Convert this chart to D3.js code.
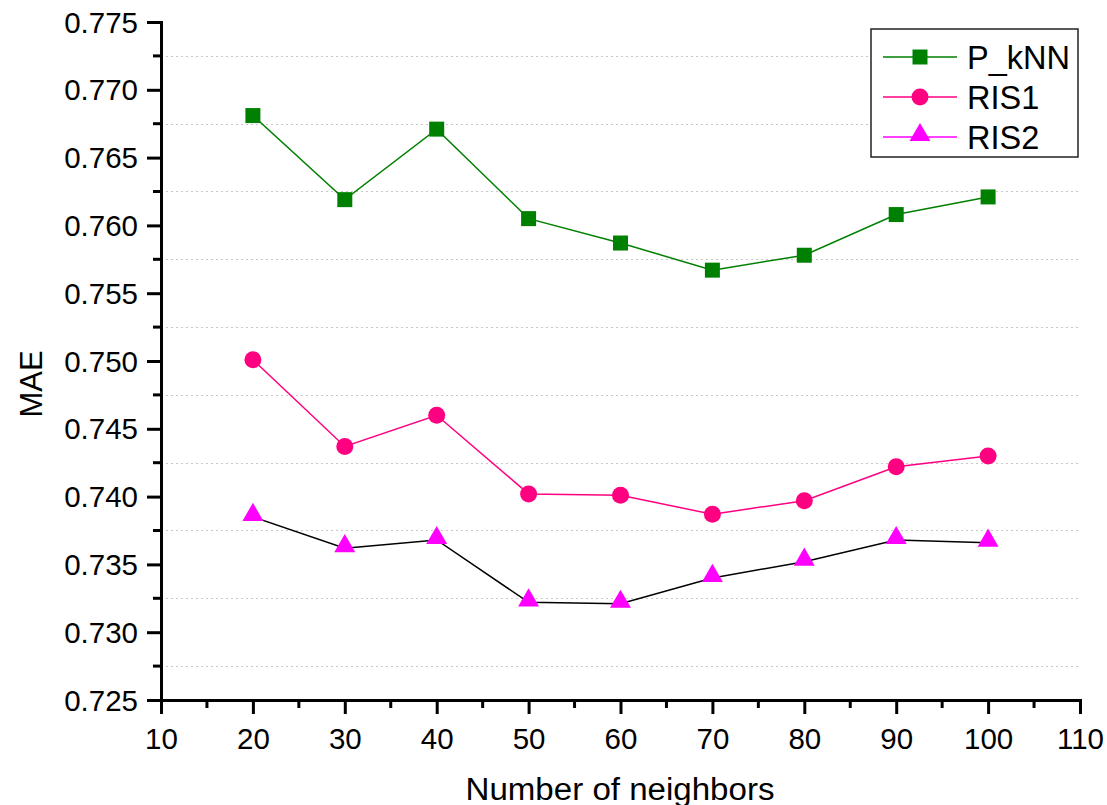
<!DOCTYPE html>
<meta charset="utf-8">
<html>
<script src="https://d3js.org/d3.v7.min.js"></script>
<style>
  body { margin: 0; background: #fff; }
  text { font-family: "Liberation Sans", Arial, sans-serif; }
</style>
<body>
<div id="chart"></div>
<script>
    // data
    const neighbors = [20, 30, 40, 50, 60, 70, 80, 90, 100]
    const pknn = [0.7681, 0.7619, 0.7671, 0.7605, 0.7587, 0.7567, 0.7578, 0.7608, 0.7621]
    const ris1 = [0.7501, 0.7437, 0.7460, 0.7402, 0.7401, 0.7387, 0.7397, 0.7422, 0.7430]
    const ris2 = [0.7385, 0.7362, 0.7368, 0.7322, 0.7321, 0.7340, 0.7352, 0.7368, 0.7366]
    const xTicks = [10, 20, 30, 40, 50, 60, 70, 80, 90, 100, 110]
    const yTicks = [0.725, 0.730, 0.735, 0.740, 0.745, 0.750, 0.755, 0.760, 0.765, 0.770, 0.775]

    const width = 1107, height = 805
    const plotLeft = 161, plotRight = 1080, plotTop = 22, plotBottom = 700

    const svg = d3.select("#chart").append("svg")
        .attr("width", width).attr("height", height)

    const x = d3.scaleLinear().domain([10, 110]).range([plotLeft, plotRight])
    const y = d3.scaleLinear().domain([0.725, 0.775]).range([plotBottom, plotTop])

    // dotted grid lines sit at the minor ticks only
    const minorY = d3.range(0.7275, 0.775, 0.005)
    svg.selectAll(".grid")
      .data(minorY)
      .join("line")
        .attr("x1", plotLeft).attr("x2", plotRight - 2)
        .attr("y1", d => Math.round(y(d)) + 0.5).attr("y2", d => Math.round(y(d)) + 0.5)
        .attr("stroke", "#c8c8c8")
        .attr("stroke-width", 1)
        .attr("stroke-dasharray", "2,3")

    // y axis
    const yAxis = svg.append("g").attr("transform", `translate(${plotLeft},0)`)
      .call(d3.axisLeft(y).tickValues(yTicks).tickFormat(d3.format(".3f")).tickSize(14).tickSizeOuter(0))
    yAxis.selectAll(".tick text").style("font-size", "29.5px").attr("x", -23).attr("dy", "0.34em")
    yAxis.selectAll(".tick line").attr("stroke-width", 3)
    yAxis.select(".domain").attr("stroke-width", 3)
    yAxis.selectAll(".minor")
      .data(minorY)
      .join("line")
        .attr("x1", -8).attr("x2", 0)
        .attr("y1", d => y(d)).attr("y2", d => y(d))
        .attr("stroke", "#000").attr("stroke-width", 3)

    // x axis
    const xAxis = svg.append("g").attr("transform", `translate(0,${plotBottom})`)
      .call(d3.axisBottom(x).tickValues(xTicks).tickSize(14).tickSizeOuter(0))
    xAxis.selectAll(".tick text").style("font-size", "29.5px").attr("y", 28).attr("dy", "0.71em")
    xAxis.selectAll(".tick line").attr("stroke-width", 3)
    xAxis.select(".domain").attr("stroke-width", 3)
    xAxis.selectAll(".minor")
      .data(d3.range(15, 110, 10))
      .join("line")
        .attr("x1", d => x(d)).attr("x2", d => x(d))
        .attr("y1", 0).attr("y2", 8)
        .attr("stroke", "#000").attr("stroke-width", 3)
    svg.selectAll(".domain").attr("stroke-linecap", "square")

    // axis titles
    svg.append("text")
        .attr("x", 620).attr("y", 800)
        .attr("text-anchor", "middle")
        .style("font-size", "31px")
        .attr("textLength", 309).attr("lengthAdjust", "spacingAndGlyphs")
        .text("Number of neighbors")
    svg.append("text")
        .attr("transform", "translate(42,384) rotate(-90)")
        .attr("text-anchor", "middle")
        .style("font-size", "31px")
        .text("MAE")

    const series = [
      { name: "P_kNN", values: pknn, line: "#008000", fill: "#008000", shape: d3.symbolSquare, size: 225 },
      { name: "RIS1", values: ris1, line: "#ff0080", fill: "#ff0080", shape: d3.symbolCircle, size: 227 },
      { name: "RIS2", values: ris2, line: "#000000", fill: "#ff00ff", shape: d3.symbolTriangle, size: 190, legendLine: "#ff00ff" }
    ]

    const line = d3.line().x(d => x(d[0])).y(d => y(d[1]))

    series.forEach(s => {
      const pts = neighbors.map((n, i) => [n, s.values[i]])
      svg.append("path")
        .datum(pts)
        .attr("d", line)
        .attr("fill", "none")
        .attr("stroke", s.line)
        .attr("stroke-width", 1.5)
      svg.selectAll(".pt-" + s.name)
        .data(pts)
        .join("path")
          .attr("d", d3.symbol().type(s.shape).size(s.size))
          .attr("transform", d => `translate(${x(d[0])},${y(d[1]) + (s.shape === d3.symbolTriangle ? -2 : 0)})`)
          .attr("fill", s.fill)
    })

    // legend
    const legend = svg.append("g")
    legend.append("rect")
        .attr("x", 871).attr("y", 29)
        .attr("width", 207).attr("height", 128)
        .attr("fill", "#fff")
        .attr("stroke", "#222").attr("stroke-width", 1.5)
    series.forEach((s, i) => {
      const ly = 57 + i * 40
      legend.append("line")
          .attr("x1", 883).attr("x2", 957)
          .attr("y1", ly).attr("y2", ly)
          .attr("stroke", s.legendLine || s.line).attr("stroke-width", 1.5)
      legend.append("path")
          .attr("d", d3.symbol().type(s.shape).size(s.size))
          .attr("transform", `translate(920,${ly + (s.shape === d3.symbolTriangle ? -2 : 0)})`)
          .attr("fill", s.fill)
      legend.append("text")
          .attr("x", 967).attr("y", ly)
          .attr("dy", "0.36em")
          .style("font-size", "32.5px")
          .text(s.name)
    })
</script>
</body>
</html>
